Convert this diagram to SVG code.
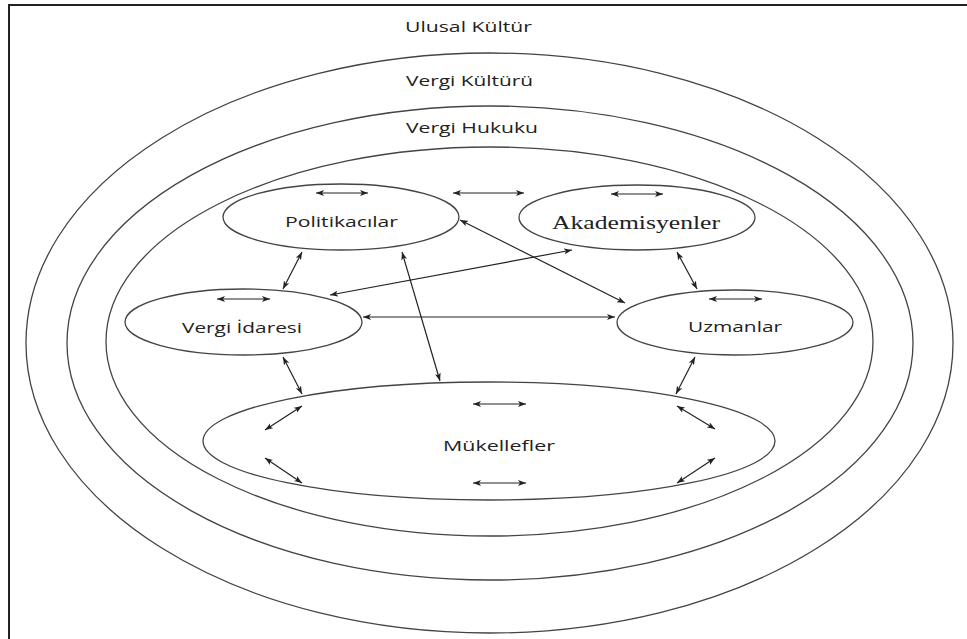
<svg xmlns="http://www.w3.org/2000/svg" width="967" height="639" viewBox="0 0 967 639">
<defs>
<style>
.ring{fill:none;stroke:#444;stroke-width:1.3}
.node{fill:#fff;stroke:#444;stroke-width:1.3}
.lbl{font-family:"Open Sans","Liberation Sans",Arial,sans-serif;font-size:15px;fill:#222}
.ser{font-family:"Liberation Serif","Times New Roman",serif;font-size:18px;fill:#222}
.cn{stroke:#222;stroke-width:1.2;fill:none;marker-start:url(#ah);marker-end:url(#ah)}
</style>
<marker id="ah" viewBox="0 0 8 6" refX="8" refY="3" markerWidth="8" markerHeight="6" orient="auto-start-reverse" markerUnits="userSpaceOnUse">
<path d="M0,0 L8,3 L0,6 L2,3 Z" fill="#222"/>
</marker>
</defs>
<rect width="967" height="639" fill="#fff"/>
<path d="M9,639 V5 H967" fill="none" stroke="#222" stroke-width="2"/>

<g id="ulusal-kultur">
<text class="lbl" x="405" y="32" textLength="127" lengthAdjust="spacingAndGlyphs">Ulusal Kültür</text>
</g>
<g id="vergi-kulturu">
<ellipse class="ring" cx="489.5" cy="343" rx="463.5" ry="290"/>
<text class="lbl" x="406" y="86" textLength="127" lengthAdjust="spacingAndGlyphs">Vergi Kültürü</text>
</g>
<g id="vergi-hukuku">
<ellipse class="ring" cx="490" cy="343" rx="423" ry="237"/>
<text class="lbl" x="406" y="133" textLength="132" lengthAdjust="spacingAndGlyphs">Vergi Hukuku</text>
</g>
<g id="inner">
<ellipse class="ring" cx="489.5" cy="341.5" rx="383.5" ry="194.5"/>
</g>

<g id="politikacilar">
<ellipse class="node" cx="341" cy="217" rx="118" ry="33"/>
<text class="lbl" x="285" y="227" textLength="113" lengthAdjust="spacingAndGlyphs">Politikacılar</text>
</g>
<g id="akademisyenler">
<ellipse class="node" cx="637" cy="217.5" rx="118" ry="32.5"/>
<text class="ser" x="552" y="229" textLength="168" lengthAdjust="spacingAndGlyphs">Akademisyenler</text>
</g>
<g id="vergi-idaresi">
<ellipse class="node" cx="243.5" cy="322" rx="118.5" ry="33"/>
<text class="lbl" x="182" y="333" textLength="120" lengthAdjust="spacingAndGlyphs">Vergi İdaresi</text>
</g>
<g id="uzmanlar">
<ellipse class="node" cx="735" cy="322.5" rx="118" ry="32.5"/>
<text class="lbl" x="688" y="332" textLength="94" lengthAdjust="spacingAndGlyphs">Uzmanlar</text>
</g>
<g id="mukellefler">
<ellipse class="node" cx="489" cy="441" rx="286" ry="59"/>
<text class="lbl" x="443" y="451" textLength="112" lengthAdjust="spacingAndGlyphs">Mükellefler</text>
</g>

<g id="connectors">
<line class="cn" x1="316" y1="193" x2="368" y2="193"/>
<line class="cn" x1="453" y1="193" x2="524" y2="193"/>
<line class="cn" x1="611" y1="194" x2="663" y2="194"/>
<line class="cn" x1="217" y1="299" x2="270" y2="299"/>
<line class="cn" x1="709" y1="299" x2="762" y2="299"/>
<line class="cn" x1="473" y1="404" x2="526" y2="404"/>
<line class="cn" x1="473" y1="483" x2="526" y2="483"/>
<line class="cn" x1="302" y1="252" x2="283" y2="289"/>
<line class="cn" x1="402" y1="252" x2="440" y2="381"/>
<line class="cn" x1="460" y1="220" x2="625" y2="303"/>
<line class="cn" x1="330" y1="295" x2="572" y2="250"/>
<line class="cn" x1="363" y1="317" x2="615" y2="317"/>
<line class="cn" x1="677" y1="252" x2="697" y2="289"/>
<line class="cn" x1="283" y1="357" x2="302" y2="394"/>
<line class="cn" x1="695" y1="357" x2="676" y2="394"/>
<line class="cn" x1="302" y1="406" x2="265" y2="430"/>
<line class="cn" x1="265" y1="458" x2="302" y2="483"/>
<line class="cn" x1="677" y1="406" x2="715" y2="429"/>
<line class="cn" x1="715" y1="458" x2="677" y2="483"/>
</g>
</svg>
